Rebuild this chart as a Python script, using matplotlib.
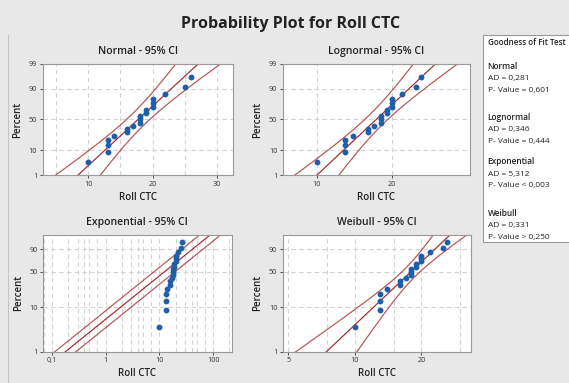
import numpy as np
import matplotlib
matplotlib.use("Agg")
import matplotlib.pyplot as plt
from matplotlib.lines import Line2D
from matplotlib.patches import Rectangle
from statistics import NormalDist

plt.rcParams['font.family'] = ['Open Sans', 'DejaVu Sans']

# Roll CTC sample
roll_ctc = np.array([10, 13, 13, 13, 14, 16, 16, 17, 18, 18, 18,
                     19, 19, 20, 20, 20, 22, 25, 26], dtype=float)

fit_names = ['Normal', 'Lognormal', 'Exponential', 'Weibull']
ad_values = ['0,281', '0,346', '5,312', '0,331']
p_values = ['= 0,601', '= 0,444', '< 0,003', '> 0,250']

pct_ticks = [1, 10, 50, 90, 99]
pct_ticks_ew = [1, 10, 50, 90]

BG = '#e8e8e8'
RED = '#a32828'
BLUE = '#1f5ea8'
ND = NormalDist()
Z975 = 1.959964


def _inv(p):
    return ND.inv_cdf(p) if np.isfinite(p) else np.nan


def _cdf(z):
    return ND.cdf(z) if not np.isnan(z) else np.nan


inv_v = np.vectorize(_inv, otypes=[float])
cdf_v = np.vectorize(_cdf, otypes=[float])


def z_of(p):
    p = np.clip(np.asarray(p, dtype=float), 1e-6, 100 - 1e-6) / 100
    return inv_v(p)


def p_of_z(z):
    return cdf_v(np.asarray(z, dtype=float)) * 100


def w_of(p):
    p = np.clip(np.asarray(p, dtype=float), 1e-6, 100 - 1e-6) / 100
    return np.log(-np.log(1 - p))


def p_of_w(w):
    return (1 - np.exp(-np.exp(np.asarray(w, dtype=float)))) * 100


n = len(roll_ctc)
xs = np.sort(roll_ctc)
pos = (np.arange(1, n + 1) - 0.3) / (n + 0.4) * 100
pgrid = np.linspace(0.05, 99.95, 600)
zg = z_of(pgrid)
wg = w_of(pgrid)

# normal fit (MLE)
mu = xs.mean()
sd = xs.std()
nq = mu + zg * sd
nse = sd * np.sqrt(1 / n + zg ** 2 / (2 * n))

# lognormal fit
lx = np.log(xs)
lmu, lsd = lx.mean(), lx.std()
lq = lmu + zg * lsd
lse = lsd * np.sqrt(1 / n + zg ** 2 / (2 * n))

# exponential fit
theta = xs.mean()
eq = np.log(theta) + wg
ese = 1 / np.sqrt(n)

# weibull fit (MLE, bisection on shape)
def wb_eq(b):
    xb = xs ** b
    return np.sum(xb * lx) / np.sum(xb) - 1 / b - lx.mean()

lo, hi = 0.5, 30.0
for _ in range(100):
    mid = (lo + hi) / 2
    if wb_eq(mid) > 0:
        hi = mid
    else:
        lo = mid
beta = (lo + hi) / 2
eta = np.mean(xs ** beta) ** (1 / beta)
bb = 1 / beta
wq = np.log(eta) + bb * wg
wse = bb * np.sqrt((1.109 + 0.514 * wg + 0.608 * wg ** 2) / n)

fig = plt.figure(figsize=(5.69, 3.83), dpi=100, facecolor=BG)
fig.text(0.511, 0.937, 'Probability Plot for Roll CTC', ha='center', va='center',
         fontsize=11.5, fontweight='bold', color='#222222')
fig.add_artist(Line2D([8 / 569, 8 / 569], [0, 1 - 35 / 383], color='#c4c4c4', lw=0.8))


def style(ax, title):
    ax.set_facecolor('white')
    for s in ax.spines.values():
        s.set_color('#9a9a9a')
        s.set_linewidth(0.8)
    ax.set_title(title, fontsize=7.5, fontweight='semibold', color='#222222', pad=7)
    ax.set_xlabel('Roll CTC', fontsize=7, fontweight='semibold', color='#222222', labelpad=3)
    ax.set_ylabel('Percent', fontsize=7, fontweight='semibold', color='#222222', labelpad=4)
    ax.tick_params(labelsize=5.2, colors='#333333', length=2.5, width=0.6, pad=1.5)
    ax.tick_params(which='minor', length=0)
    ax.grid(True, which='both', ls=(0, (4, 3)), color='#d2d2d2', lw=0.8)
    ax.set_axisbelow(True)


def draw_lines(ax, center, se, tf):
    ax.plot(tf(center), pgrid, color=RED, lw=0.85)
    ax.plot(tf(center - Z975 * se), pgrid, color=RED, lw=0.85, alpha=0.8)
    ax.plot(tf(center + Z975 * se), pgrid, color=RED, lw=0.85, alpha=0.8)


ident = lambda v: v

# Normal
ax1 = fig.add_axes([0.075, 0.543, 0.3345, 0.290])
ax1.set_yscale('function', functions=(z_of, p_of_z))
draw_lines(ax1, nq, nse, ident)
ax1.plot(xs, pos, 'o', color=BLUE, ms=3.2)
ax1.set_xlim(2.9, 32.5)
ax1.set_ylim(1, 99)
ax1.set_xticks([10, 20, 30])
ax1.set_xticks([5, 15, 25], minor=True)
ax1.set_yticks(pct_ticks)
ax1.set_yticklabels([str(t) for t in pct_ticks])
ax1.yaxis.set_minor_locator(matplotlib.ticker.NullLocator())
style(ax1, 'Normal - 95% CI')

# Lognormal
ax2 = fig.add_axes([0.497, 0.543, 0.329, 0.290])
ax2.set_xscale('log')
ax2.set_yscale('function', functions=(z_of, p_of_z))
draw_lines(ax2, lq, lse, np.exp)
ax2.plot(xs, pos, 'o', color=BLUE, ms=3.2)
ax2.set_xlim(7.3, 41)
ax2.set_ylim(1, 99)
ax2.set_xticks([10, 20])
ax2.set_xticklabels(['10', '20'])
ax2.xaxis.set_minor_locator(matplotlib.ticker.NullLocator())
ax2.set_yticks(pct_ticks)
ax2.set_yticklabels([str(t) for t in pct_ticks])
ax2.yaxis.set_minor_locator(matplotlib.ticker.NullLocator())
style(ax2, 'Lognormal - 95% CI')

# Exponential
ax3 = fig.add_axes([0.076, 0.0817, 0.331, 0.305])
ax3.set_xscale('log')
ax3.set_yscale('function', functions=(w_of, p_of_w))
draw_lines(ax3, eq, ese, np.exp)
ax3.plot(xs, pos, 'o', color=BLUE, ms=3.2)
ax3.set_xlim(0.069, 220)
ax3.set_ylim(1, 99.3)
ax3.set_xticks([0.1, 1, 10, 100])
ax3.set_xticklabels(['0,1', '1', '10', '100'])
ax3.xaxis.set_minor_locator(matplotlib.ticker.LogLocator(subs=[2, 3, 4, 5, 7], numticks=20))
ax3.xaxis.set_minor_formatter(matplotlib.ticker.NullFormatter())
ax3.set_yticks(pct_ticks_ew)
ax3.set_yticklabels([str(t) for t in pct_ticks_ew])
ax3.yaxis.set_minor_locator(matplotlib.ticker.NullLocator())
style(ax3, 'Exponential - 95% CI')

# Weibull
ax4 = fig.add_axes([0.497, 0.0817, 0.331, 0.305])
ax4.set_xscale('log')
ax4.set_yscale('function', functions=(w_of, p_of_w))
draw_lines(ax4, wq, wse, np.exp)
ax4.plot(xs, pos, 'o', color=BLUE, ms=3.2)
ax4.set_xlim(4.72, 33.6)
ax4.set_ylim(1, 99.3)
ax4.set_xticks([5, 10, 20])
ax4.set_xticklabels(['5', '10', '20'])
ax4.set_xticks([7.5, 15, 30], minor=True)
ax4.xaxis.set_minor_formatter(matplotlib.ticker.NullFormatter())
ax4.set_yticks(pct_ticks_ew)
ax4.set_yticklabels([str(t) for t in pct_ticks_ew])
ax4.yaxis.set_minor_locator(matplotlib.ticker.NullLocator())
style(ax4, 'Weibull - 95% CI')

# goodness of fit box
fig.add_artist(Rectangle((483 / 569, 1 - 242 / 383), 0.2, (242 - 35) / 383,
                         transform=fig.transFigure, facecolor='white',
                         edgecolor='#9a9a9a', lw=0.8))
tx = 487.5 / 569
fig.text(tx, 1 - 42.5 / 383, 'Goodness of Fit Test', fontsize=5.8,
         fontweight='semibold', color='#222222', va='center')
y0 = [66.7, 117.7, 162, 213]
for name, ad, pv, y in zip(fit_names, ad_values, p_values, y0):
    fig.text(tx, 1 - y / 383, name, fontsize=6, fontweight='semibold',
             color='#222222', va='center')
    fig.text(tx, 1 - (y + 12) / 383, 'AD = ' + ad, fontsize=6,
             color='#222222', va='center')
    fig.text(tx, 1 - (y + 24) / 383, 'P- Value ' + pv, fontsize=6,
             color='#222222', va='center')

fig.savefig('out.png', dpi=100, facecolor=BG)
